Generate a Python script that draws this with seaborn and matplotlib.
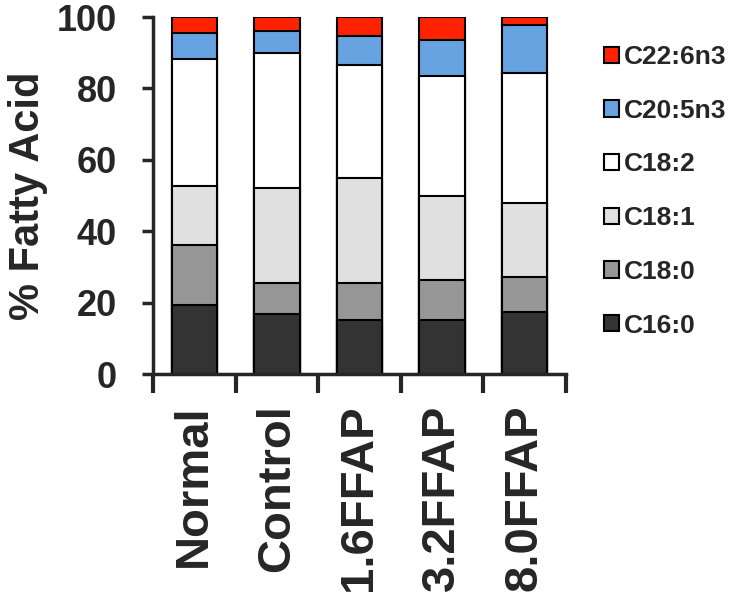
import numpy as np
import pandas as pd
import matplotlib
matplotlib.use('Agg')
import matplotlib.pyplot as plt
import seaborn as sns

# groups and fatty acid composition (% of total)
groups = ['Normal', 'Control', '1.6FFAP', '3.2FFAP', '8.0FFAP']
acids = ['C16:0', 'C18:0', 'C18:1', 'C18:2', 'C20:5n3', 'C22:6n3']
c16_0 = [19.3, 16.7, 15.1, 15.1, 17.4]
c18_0 = [16.8, 8.9, 10.5, 11.2, 9.7]
c18_1 = [16.5, 26.6, 29.4, 23.5, 20.7]
c18_2 = [35.6, 37.6, 31.6, 33.7, 36.5]
c20_5 = [7.4, 6.2, 8.2, 10.1, 13.4]
c22_6 = [4.4, 4.0, 5.2, 6.4, 2.3]
colors = ['#333333', '#969696', '#e0e0e0', '#ffffff', '#67a3e0', '#ff2200']

df = pd.DataFrame({'group': groups, 'C16:0': c16_0, 'C18:0': c18_0,
                   'C18:1': c18_1, 'C18:2': c18_2, 'C20:5n3': c20_5,
                   'C22:6n3': c22_6})
cum = df[acids].cumsum(axis=1)
cum['group'] = df['group']

sns.set_style('ticks')
plt.rcParams['font.family'] = ['Liberation Sans', 'DejaVu Sans']

fig = plt.figure(figsize=(7.33, 6.01), dpi=100)
ax = fig.add_axes([0.2087, 0.3777, 0.5634, 0.594])

# stacked bars: draw cumulative totals from the top layer down
for acid, col in zip(acids[::-1], colors[::-1]):
    sns.barplot(data=cum, x='group', y=acid, color=col, saturation=1,
                width=0.55, edgecolor='black', linewidth=1.5, label=acid, ax=ax)

ax.set_ylim(0, 100)
ax.set_xlim(-0.5, 4.5)
ax.set_yticks([0, 20, 40, 60, 80, 100])
ax.set_ylabel('% Fatty Acid', fontsize=30, fontweight='bold', labelpad=6)
ax.set_xlabel('')
sns.despine(ax=ax)
for s in ['left', 'bottom']:
    ax.spines[s].set_linewidth(2.5)

ax.tick_params(axis='y', direction='out', length=8, width=2.5, pad=18,
               labelsize=26)
for t in ax.get_yticklabels():
    t.set_fontweight('bold')
ax.set_xticks(range(len(groups)))
ax.set_xticklabels(groups, rotation=90, fontsize=34, fontweight='bold')
ax.tick_params(axis='x', which='major', length=0, pad=22)
ax.set_xticks(np.arange(-0.5, 5, 1), minor=True)
ax.tick_params(axis='x', which='minor', direction='out', length=14, width=3)

if ax.legend_:
    ax.legend_.remove()
handles, labels = ax.get_legend_handles_labels()
fig.legend(handles, labels, loc='upper left', bbox_to_anchor=(0.824, 0.925),
           frameon=False, prop={'size': 19, 'weight': 'bold'}, borderpad=0,
           handlelength=0.57, handleheight=0.57, handletextpad=0.19,
           labelspacing=1.125, borderaxespad=0)

fig.savefig('out.png', dpi=100)
